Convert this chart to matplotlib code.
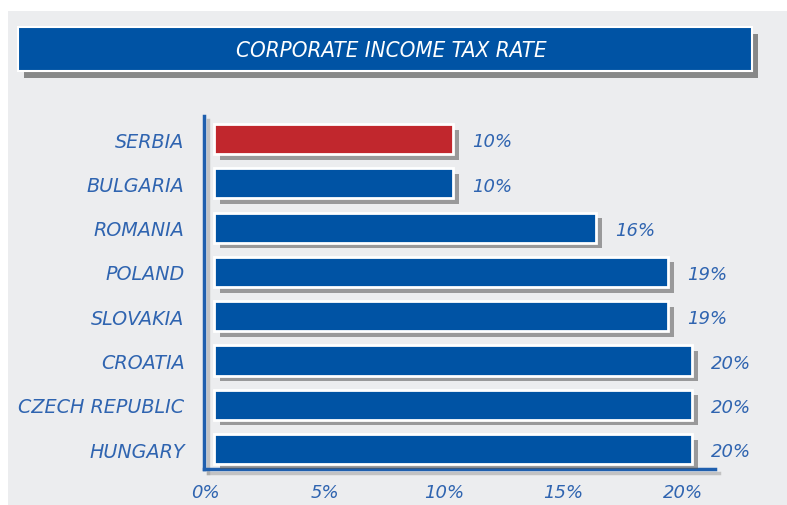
import matplotlib.pyplot as plt
import matplotlib.patheffects as pe
from matplotlib.patches import Rectangle
from matplotlib.transforms import ScaledTranslation

countries = ['SERBIA', 'BULGARIA', 'ROMANIA', 'POLAND', 'SLOVAKIA',
             'CROATIA', 'CZECH REPUBLIC', 'HUNGARY']
rates = [10, 10, 16, 19, 19, 20, 20, 20]
bar_colors = ['#c1272d'] + ['#0053a4'] * 7
ticks = [0, 5, 10, 15, 20]
tick_labels = ['0%', '5%', '10%', '15%', '20%']
title = 'CORPORATE INCOME TAX RATE'

BLUE = '#0053a4'
TEXT = '#2f64b0'
FONT = ['DejaVu Sans']

fig = plt.figure(figsize=(7.87, 5.06), dpi=100)
fig.patch.set_facecolor('white')

# grey panel behind everything
fig.add_artist(Rectangle((8 / 787, 0), 1, 1 - 12 / 506, transform=fig.transFigure,
                         facecolor='#ecedef', edgecolor='none', zorder=0))

# title banner with drop shadow
banner = Rectangle((18 / 787, 1 - 72 / 506), 734 / 787, 44 / 506,
                   transform=fig.transFigure, facecolor=BLUE, edgecolor='white',
                   linewidth=1.5, zorder=1)
banner.set_path_effects([pe.SimplePatchShadow(offset=(4, -5), shadow_rgbFace='#666666',
                                              alpha=0.75), pe.Normal()])
fig.add_artist(banner)
fig.text(391 / 787, 1 - 51 / 506, title, color='white', fontsize=16,
         style='italic', stretch='condensed', family=FONT, ha='center', va='center',
         zorder=2)

ax = fig.add_axes([204 / 787, 36 / 506, 511 / 787, 353 / 506])
ax.set_facecolor('none')

y = list(range(len(countries)))
bars = ax.barh(y, rates, height=0.68, color=bar_colors, edgecolor='white',
               linewidth=2, zorder=3)
for b in bars:
    b.set_path_effects([pe.SimplePatchShadow(offset=(4, -4), shadow_rgbFace='#555555',
                                             alpha=0.55), pe.Normal()])

for yi, r in zip(y, rates):
    ax.text(r + 0.8, yi + 0.05, f'{r}%', color=TEXT, fontsize=13, style='italic',
            family=FONT, va='center', ha='left')

ax.set_xlim(-0.42, 20.96)
ax.set_ylim(7.45, -0.52)
ax.set_yticks(y)
ax.set_yticklabels(countries, color=TEXT, fontsize=13.8, style='italic', family=FONT)
ax.set_xticks(ticks)
ax.set_xticklabels(tick_labels, color=TEXT, fontsize=13, style='italic', family=FONT)
ax.tick_params(length=0, axis='y', pad=14)
ax.tick_params(length=0, axis='x', pad=10)
shift = ScaledTranslation(-9 / 100, 0, fig.dpi_scale_trans)
for lbl in ax.get_xticklabels():
    lbl.set_transform(lbl.get_transform() + shift)

for side in ['top', 'right']:
    ax.spines[side].set_visible(False)
for side in ['left', 'bottom']:
    ax.spines[side].set_color('#1f5fae')
    ax.spines[side].set_linewidth(2.5)
    ax.spines[side].set_path_effects([pe.SimpleLineShadow(offset=(3, -3), shadow_color='#999999',
                                                          alpha=0.5), pe.Normal()])

fig.savefig('out.png', dpi=100, facecolor=fig.get_facecolor())
